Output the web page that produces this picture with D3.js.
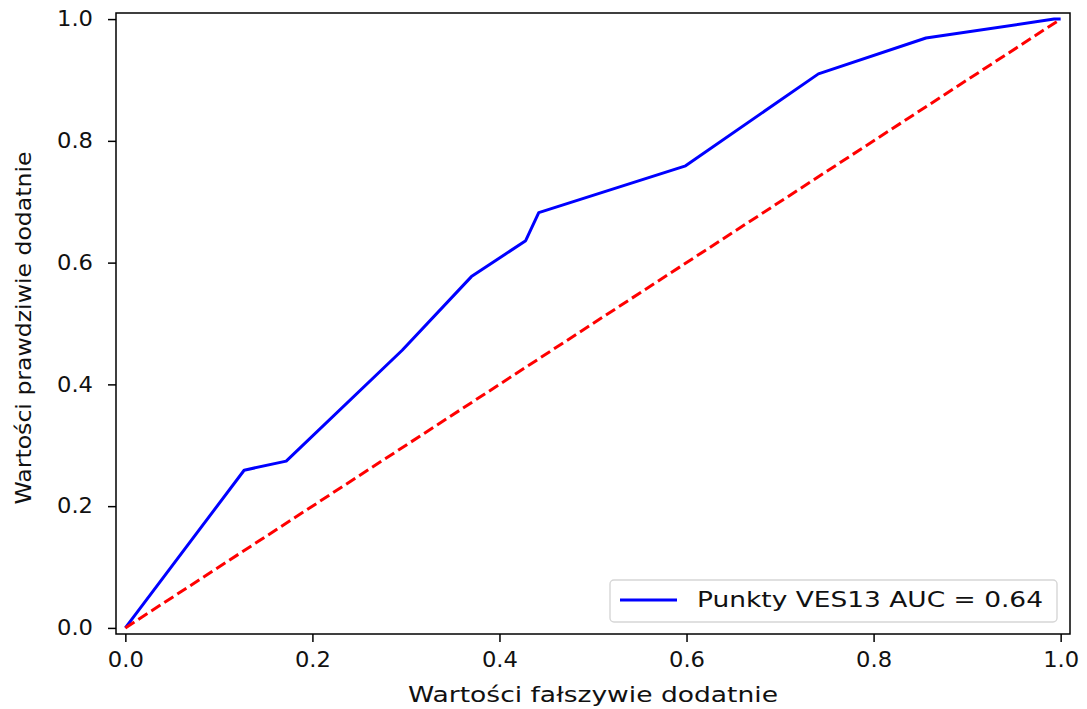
<!DOCTYPE html>
<html>
<head>
<meta charset="utf-8">
<script src="https://cdn.jsdelivr.net/npm/d3@7"></script>
<style>
  body { margin: 0; background: #fff; }
  text { font-family: "DejaVu Sans", sans-serif; fill: #111; }
</style>
</head>
<body>
<svg id="chart" width="1087" height="709"></svg>
<script>
// ROC curve points
var fpr = [0, 0.127, 0.172, 0.296, 0.370, 0.428, 0.442, 0.599, 0.741, 0.856, 0.993, 1.0];
var tpr = [0, 0.259, 0.274, 0.456, 0.577, 0.636, 0.682, 0.759, 0.910, 0.969, 1.0, 1.0];
var diag = [0, 1];
var ticks = [0, 0.2, 0.4, 0.6, 0.8, 1.0];
var legendLabel = "Punkty VES13 AUC = 0.64";

(function () {
    var mLeft = 116, mRight = 1070, mTop = 13, mBottom = 634;
    var fs = 21;

    var svg = d3.select("#chart");
    var x = d3.scaleLinear().domain([-0.01, 1.01]).range([mLeft, mRight]);
    var y = d3.scaleLinear().domain([-0.01, 1.01]).range([mBottom, mTop]);

    var curve = fpr.map((d, i) => [d, tpr[i]]);
    var line = d3.line().x(d => x(d[0])).y(d => y(d[1]));

    svg.append("path")
        .datum(curve)
        .attr("d", line)
        .attr("fill", "none")
        .attr("stroke", "#0000ff")
        .attr("stroke-width", 3)
        .attr("stroke-linejoin", "round");

    svg.append("path")
        .datum(diag.map(d => [d, d]))
        .attr("d", line)
        .attr("fill", "none")
        .attr("stroke", "#ff0000")
        .attr("stroke-width", 3)
        .attr("stroke-dasharray", "10.8,4.7");

    // axes
    var xAxis = d3.axisBottom(x).tickValues(ticks).tickFormat(d3.format(".1f"))
        .tickSize(8).tickPadding(10);
    var yAxis = d3.axisLeft(y).tickValues(ticks).tickFormat(d3.format(".1f"))
        .tickSize(8).tickPadding(15);

    var gx = svg.append("g").attr("transform", "translate(0," + mBottom + ")").call(xAxis);
    var gy = svg.append("g").attr("transform", "translate(" + mLeft + ",0)").call(yAxis);
    [gx, gy].forEach(g => {
        g.select(".domain").remove();
        g.selectAll(".tick line").attr("stroke", "#000").attr("stroke-width", 1.5);
        g.selectAll(".tick text")
            .attr("font-size", fs).attr("font-family", "DejaVu Sans").attr("fill", "#111")
            .attr("textLength", 36).attr("lengthAdjust", "spacingAndGlyphs");
    });

    // frame
    svg.append("rect")
        .attr("x", mLeft).attr("y", mTop)
        .attr("width", mRight - mLeft).attr("height", mBottom - mTop)
        .attr("fill", "none").attr("stroke", "#000").attr("stroke-width", 1.5);

    svg.append("text")
        .attr("x", (mLeft + mRight) / 2).attr("y", 702)
        .attr("text-anchor", "middle").attr("font-size", fs)
        .attr("textLength", 370).attr("lengthAdjust", "spacingAndGlyphs")
        .text("Wartości fałszywie dodatnie");

    svg.append("text")
        .attr("transform", "translate(31,328) rotate(-90)")
        .attr("text-anchor", "middle").attr("font-size", fs)
        .attr("textLength", 353).attr("lengthAdjust", "spacingAndGlyphs")
        .text("Wartości prawdziwie dodatnie");

    // legend
    var lg = svg.append("g");
    lg.append("rect")
        .attr("x", 610).attr("y", 580).attr("width", 447).attr("height", 42)
        .attr("rx", 4).attr("fill", "#fff").attr("fill-opacity", 0.8)
        .attr("stroke", "#d6d6d6").attr("stroke-width", 1.4);
    lg.append("line")
        .attr("x1", 620).attr("x2", 677).attr("y1", 600).attr("y2", 600)
        .attr("stroke", "#0000ff").attr("stroke-width", 3);
    lg.append("text")
        .attr("x", 697).attr("y", 607).attr("font-size", fs)
        .attr("textLength", 346).attr("lengthAdjust", "spacingAndGlyphs")
        .text(legendLabel);
})();
</script>
</body>
</html>
